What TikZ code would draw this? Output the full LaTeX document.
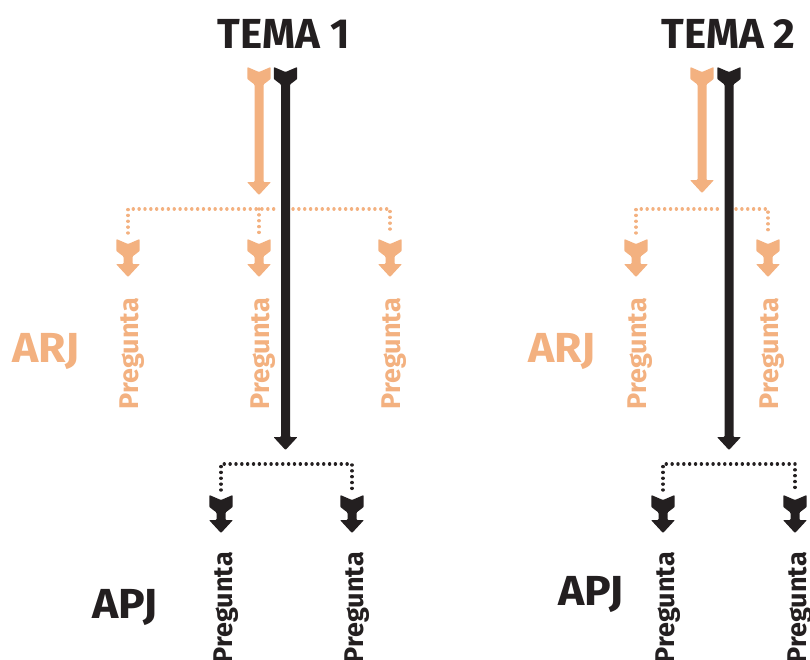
\documentclass[tikz,border=0pt]{standalone}
\usepackage{fontspec}
\setmainfont{Fira Sans}
\definecolor{arj}{RGB}{243,177,128}
\definecolor{apj}{RGB}{35,31,32}
\tikzset{
  farrow/.pic={
    \fill[rounded corners=0.8pt] (-11.7,0) -- (0,5) -- (11.7,0) -- (11.7,12) -- (4.5,17.5) -- (4.5,#1-13) -- (12,#1-13) -- (0,#1) -- (-12,#1-13) -- (-4.5,#1-13) -- (-4.5,17.5) -- (-11.7,12) -- cycle;
  },
  dots/.style={line width=3.4pt, line cap=round, dash pattern=on 0.05pt off 5.8pt},
  odots/.style={dots, draw=arj},
  bdots/.style={dots, draw=apj},
  title/.style={inner sep=0pt, anchor=base, text=apj, font=\bfseries\fontsize{42}{42}\selectfont},
  level/.style={inner sep=0pt, anchor=base west, font=\bfseries\fontsize{42}{42}\selectfont, xscale=1.06},
  preg/.style={inner sep=0pt, anchor=base east, rotate=90, font=\bfseries\fontsize{27}{27}\selectfont},
}
\begin{document}
\begin{tikzpicture}[x=1pt,y=-1pt]
\useasboundingbox (0,0) rectangle (810,659);
% titles and levels
\node[title] (t1) at (283.5,48) {TEMA 1};
\node[title] (t2) at (728.5,48) {TEMA 2};
\node[level, text=arj] (arj1) at (12,362) {ARJ};
\node[level, text=arj] (arj2) at (528,362) {ARJ};
\node[level, text=apj] (apj1) at (92,618) {APJ};
\node[level, text=apj] (apj2) at (558,605) {APJ};
% ---------- TEMA 1 ----------
% orange branch bar
\coordinate (o1L) at (128,209); \coordinate (o1R) at (390,209);
\coordinate (o1M) at (259,209);
\coordinate (o1g1) at (279,209); \coordinate (o1g2) at (293,209);
\coordinate (o1a) at (128,233); \coordinate (o1b) at (259,233); \coordinate (o1c) at (390,233);
\draw[odots] (o1a) -- (o1L) -- (o1g1);
\draw[odots] (o1g2) -- (o1R) -- (o1c);
\draw[odots] (o1M) -- (o1b);
% main arrows
\pic[color=arj] at (259,67) {farrow=128};
\pic[color=apj] at (285.5,67) {farrow=383};
% small orange arrows
\pic[color=arj] at (128,239) {farrow=38};
\pic[color=arj] at (259,239) {farrow=38};
\pic[color=arj] at (390,239) {farrow=38};
\node[preg, text=arj] (p1a) at (138,298) {Pregunta};
\node[preg, text=arj] (p1b) at (269,298) {Pregunta};
\node[preg, text=arj] (p1c) at (400,298) {Pregunta};
% black branch
\coordinate (b1L) at (221,464); \coordinate (b1R) at (352,464);
\coordinate (b1a) at (221,490); \coordinate (b1b) at (352,490);
\draw[bdots] (b1a) -- (b1L) -- (b1R) -- (b1b);
\pic[color=apj] at (221,495) {farrow=38};
\pic[color=apj] at (352,495) {farrow=38};
\node[preg, text=apj] (q1a) at (232,552) {Pregunta};
\node[preg, text=apj] (q1b) at (363,552) {Pregunta};
% ---------- TEMA 2 ----------
\coordinate (o2L) at (636,209); \coordinate (o2R) at (768,209);
\coordinate (o2g1) at (722,209); \coordinate (o2g2) at (736,209);
\coordinate (o2a) at (636,233); \coordinate (o2c) at (768,233);
\draw[odots] (o2a) -- (o2L) -- (o2g1);
\draw[odots] (o2g2) -- (o2R) -- (o2c);
\pic[color=arj] at (702,67) {farrow=126};
\pic[color=apj] at (729,67) {farrow=383};
\pic[color=arj] at (636,239) {farrow=38};
\pic[color=arj] at (768,239) {farrow=38};
\node[preg, text=arj] (p2a) at (646,298) {Pregunta};
\node[preg, text=arj] (p2c) at (778,298) {Pregunta};
\coordinate (b2L) at (663,464); \coordinate (b2R) at (795,464);
\coordinate (b2a) at (663,490); \coordinate (b2b) at (795,490);
\draw[bdots] (b2a) -- (b2L) -- (b2R) -- (b2b);
\pic[color=apj] at (663,495) {farrow=38};
\pic[color=apj] at (795,495) {farrow=38};
\node[preg, text=apj] (q2a) at (674,552) {Pregunta};
\node[preg, text=apj] (q2b) at (806,552) {Pregunta};
\end{tikzpicture}
\end{document}
